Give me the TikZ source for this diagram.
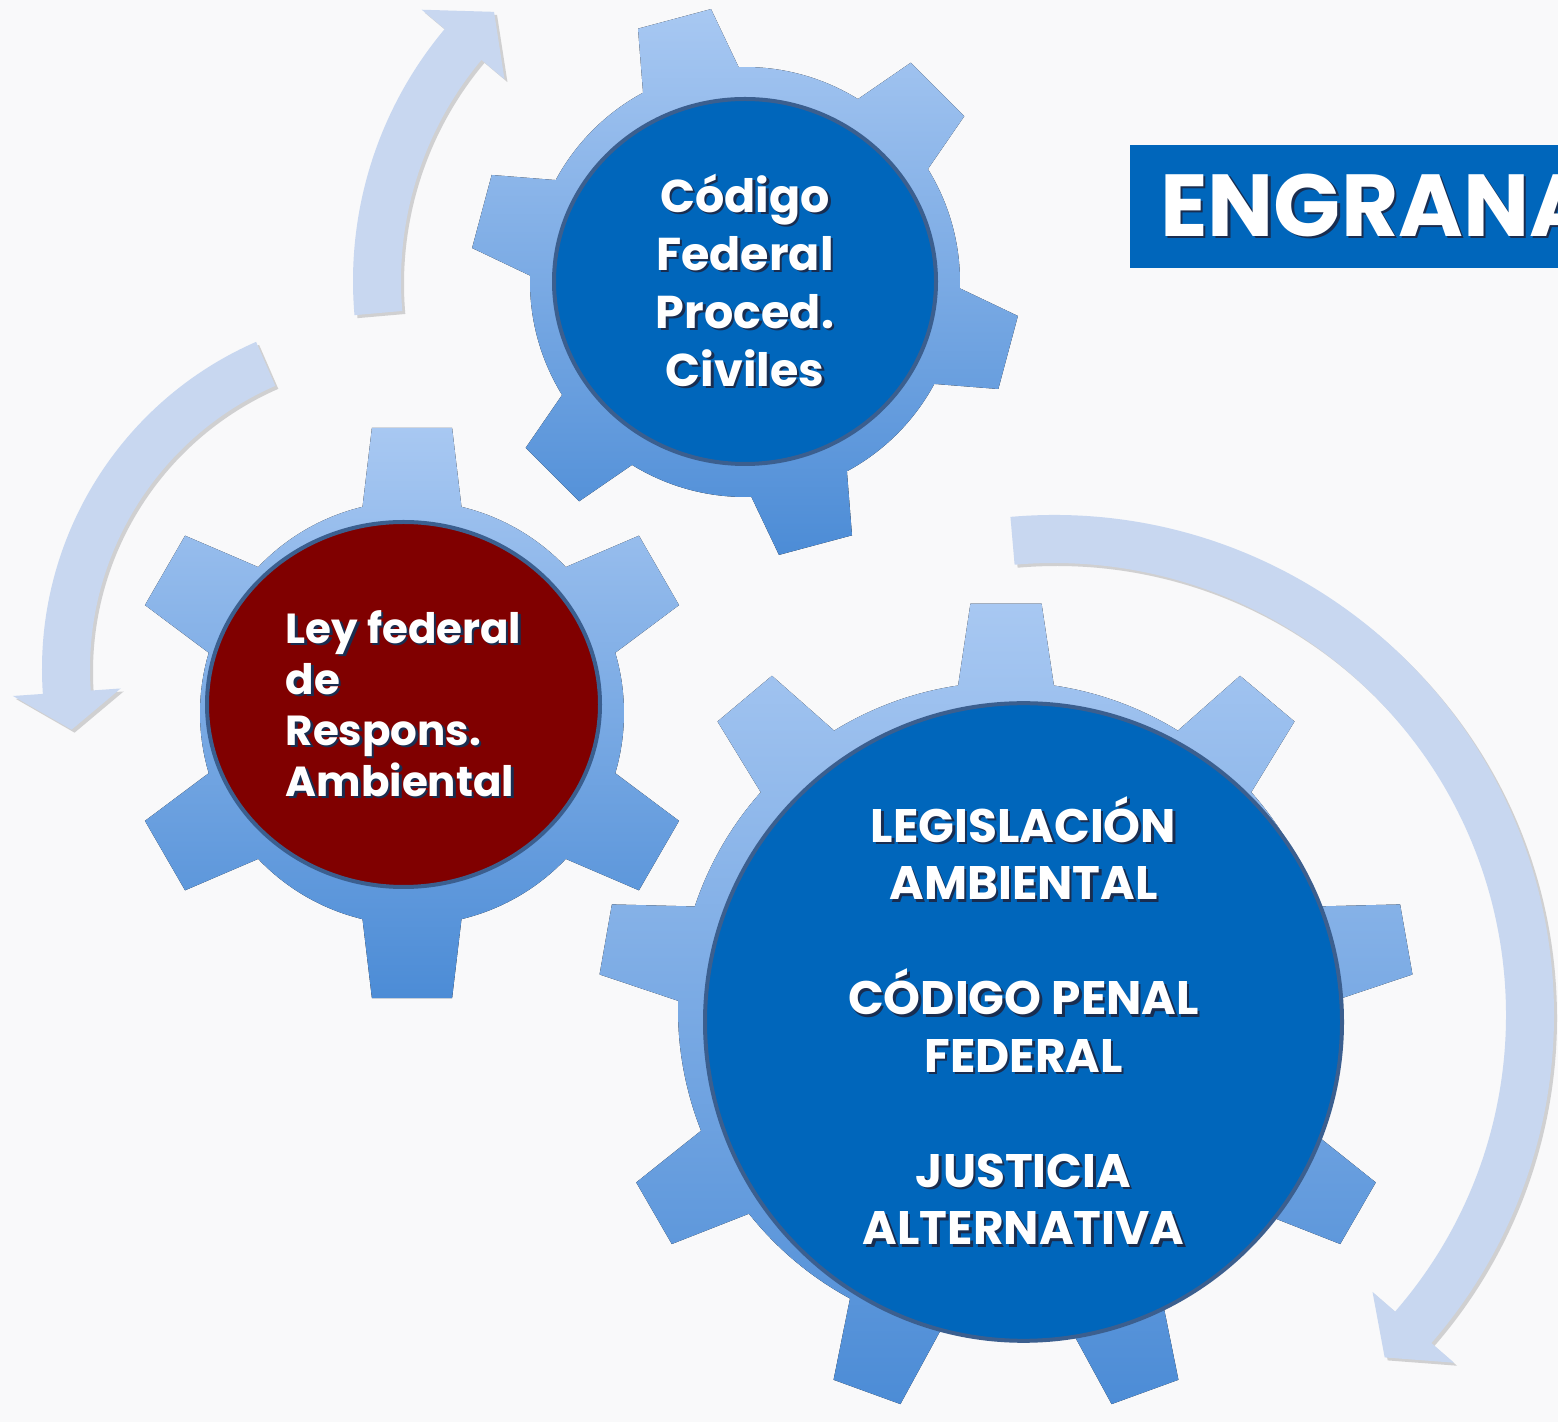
\documentclass[tikz,border=0pt]{standalone}
\usepackage{fontspec}
\setmainfont{Poppins}
\usetikzlibrary{shapes.geometric,shadows}

\definecolor{fondo}{RGB}{249,249,250}
\definecolor{azul}{RGB}{0,102,187}
\definecolor{rojo}{RGB}{128,0,0}
\definecolor{borde}{RGB}{59,95,143}
\definecolor{dienteclaro}{RGB}{168,200,242}
\definecolor{dienteoscuro}{RGB}{76,140,214}
\definecolor{flecha}{RGB}{200,215,240}
\definecolor{sombratexto}{RGB}{25,45,80}

\tikzset{
  rueda/.style={top color=dienteclaro, bottom color=dienteoscuro},
  disco/.style={ellipse, draw=borde, line width=4pt, text=white, inner sep=0pt},
  flechagiro/.style={fill=flecha, drop shadow={shadow xshift=3pt, shadow yshift=-3pt, opacity=0.3, fill=black!55}},
  titulo/.style={rectangle, fill=azul, text=white, anchor=west, minimum height=123pt,
    inner xsep=30pt, inner ysep=0pt, font=\fontsize{88}{100}\selectfont\bfseries}
}

% texto blanco con su sombra
\newcommand{\sombra}[1]{\makebox[0pt][l]{\kern2.5pt\raisebox{-2.5pt}{\textcolor{sombratexto}{#1}}}#1}

% engranaje: centro, dientes, primer diente, radio base, radio punta, semiangulo base, semiangulo punta
\newcommand{\engranaje}[7]{%
  \pgfmathsetmacro{\paso}{360/#2}
  \pgfmathtruncatemacro{\ultimo}{#2-1}
  \begin{scope}[shift={(#1)}]
    \fill[rueda] ({#3-#6}:#4)
      \foreach \k [evaluate=\k as \ang using {#3+\k*\paso}] in {0,...,\ultimo}{
        -- ({\ang-#7}:#5) -- ({\ang+#7}:#5) -- ({\ang+#6}:#4)
        arc[start angle={\ang+#6}, end angle={\ang+\paso-#6}, radius=#4]
      } -- cycle;
  \end{scope}}

% flecha curva: centro, radio, angulo inicial, angulo final, angulo de la punta
\newcommand{\giro}[5]{%
  \pgfmathsetmacro{\re}{#2+24}\pgfmathsetmacro{\ri}{#2-24}
  \pgfmathsetmacro{\he}{#2+54}\pgfmathsetmacro{\hi}{#2-54}
  \begin{scope}[shift={(#1)}]
    \fill[flechagiro] (#3:\re) arc[start angle=#3, end angle=#4, radius=\re]
      -- (#4:\he) -- (#5:#2) -- (#4:\hi) -- (#4:\ri)
      arc[start angle=#4, end angle=#3, radius=\ri] -- cycle;
  \end{scope}}

\begin{document}
\begin{tikzpicture}[x=1pt,y=1pt]
  \useasboundingbox (0,0) rectangle (1558,1422);
  \clip (0,0) rectangle (1558,1422);
  \fill[fondo] (0,0) rectangle (1558,1422);

  \coordinate (ejeArriba) at (745,1140);
  \coordinate (ejeIzq) at (412,709);
  \coordinate (ejeGrande) at (1006,412);

  % ------ flechas de giro --------------
  \giro{745,1141}{368}{185}{140}{133}
  \giro{399,753}{333}{113.6}{184}{190.5}
  \giro{1054,407}{476}{95}{-41}{-46}

  % ------ engranajes --------------
  \engranaje{ejeArriba}{6}{105}{215}{275}{13.3}{7.9}
  \engranaje{ejeIzq}{6}{90}{212}{288}{13.5}{8}
  \engranaje{ejeGrande}{9}{90}{328}{408}{8.4}{5}

  \node[disco, fill=azul, minimum width=382pt, minimum height=365pt, align=center,
    font=\fontsize{46}{58}\selectfont\bfseries] (procesal) at (745,1140.5)
    {\sombra{Código}\\\sombra{Federal}\\\sombra{Proced.}\\\sombra{Civiles}};
  \node[disco, fill=rojo, minimum width=393pt, minimum height=365pt, align=left,
    font=\fontsize{42}{51}\selectfont\bfseries] (responsabilidad) at (403.5,717.5)
    {\sombra{Ley federal}\\\sombra{de}\\\sombra{Respons.}\\\sombra{Ambiental}};
  \node[disco, fill=azul, minimum width=637pt, minimum height=610pt, align=center,
    font=\fontsize{47}{57.5}\selectfont\bfseries] (legislacion) at (1023.5,400)
    {\sombra{LEGISLACIÓN}\\\sombra{AMBIENTAL}\\[57.5pt]\sombra{CÓDIGO PENAL}\\\sombra{FEDERAL}\\[57.5pt]\sombra{JUSTICIA}\\\sombra{ALTERNATIVA}};

  \node[titulo] (titulo) at (1130,1215.5) {\sombra{ENGRANA}};
\end{tikzpicture}
\end{document}
